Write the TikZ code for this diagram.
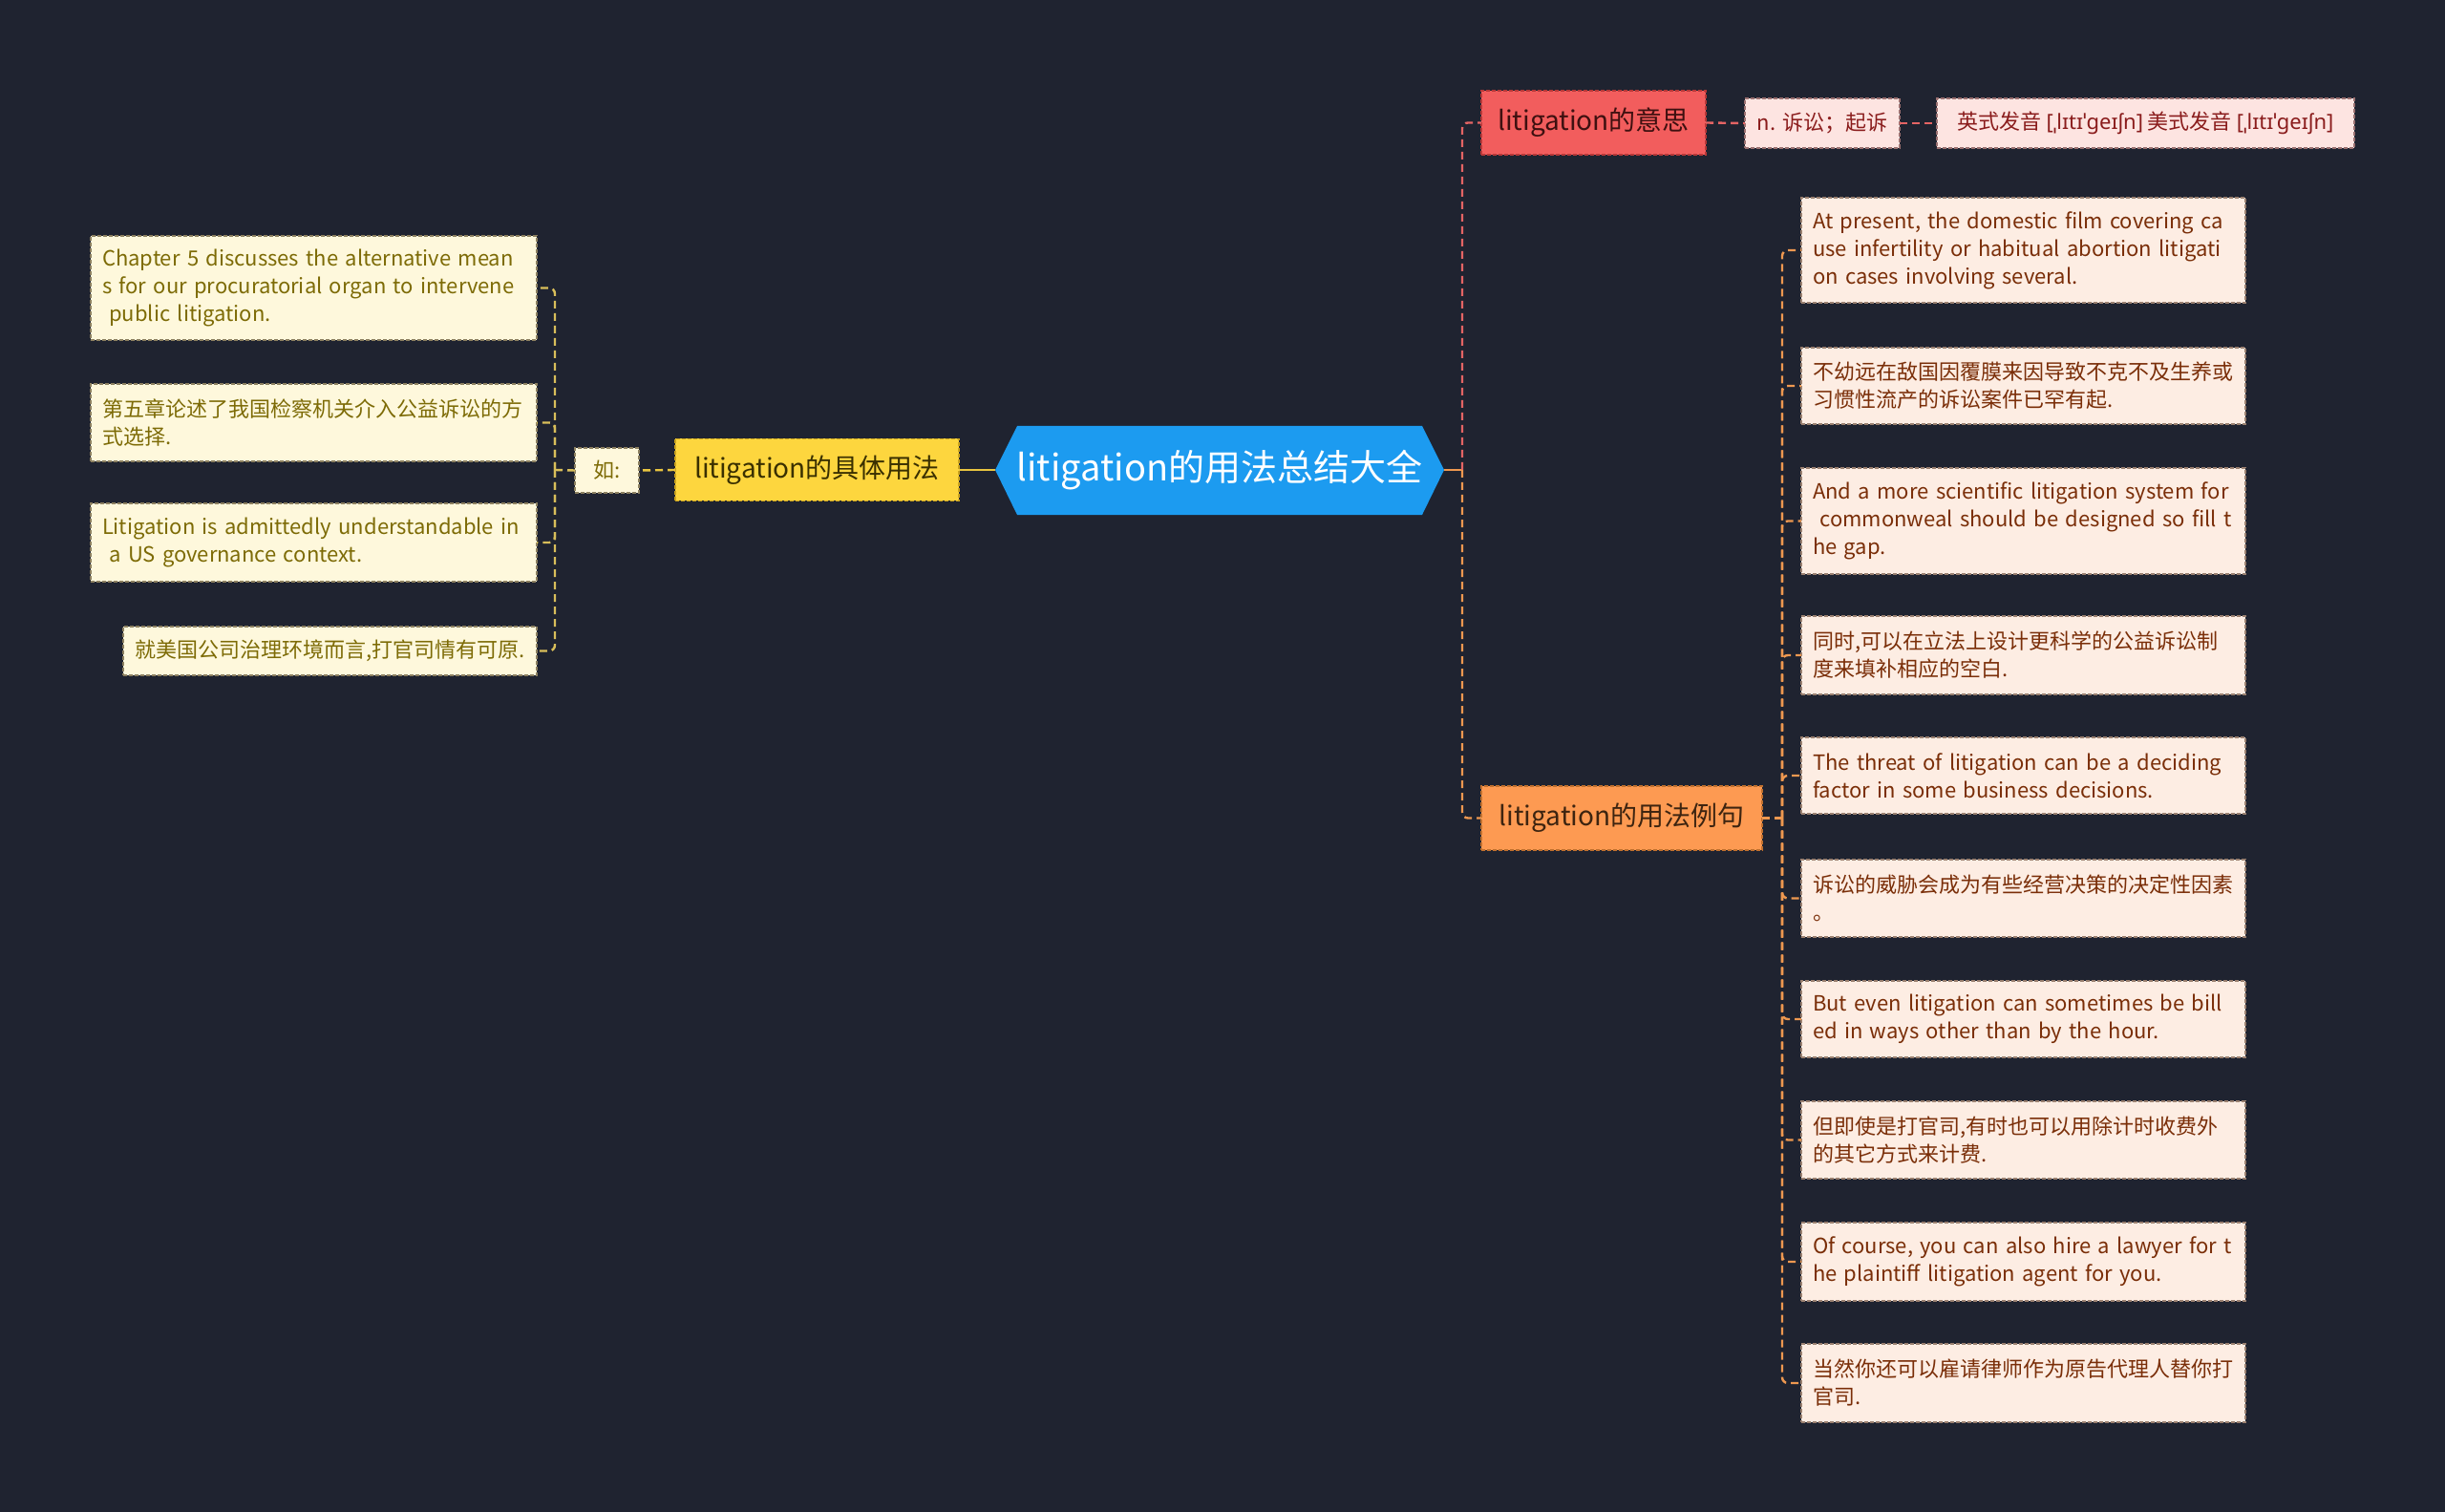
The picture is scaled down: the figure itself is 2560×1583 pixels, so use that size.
\documentclass[tikz,border=0pt]{standalone}
\usepackage{fontspec}
\setmainfont{Noto Sans CJK SC}
\newfontfamily\ipafont{Noto Sans}
\definecolor{bg}{HTML}{1F2330}
\definecolor{rootc}{HTML}{1C9BF0}
\definecolor{yfill}{HTML}{FDD63E}
\definecolor{ybord}{HTML}{C9A21E}
\definecolor{ytext}{HTML}{3A3000}
\definecolor{lfill}{HTML}{FEF8DC}
\definecolor{lbord}{HTML}{8C8060}
\definecolor{ltext}{HTML}{7D6B06}
\definecolor{rfill}{HTML}{F25D5D}
\definecolor{rbord}{HTML}{B83838}
\definecolor{rtext}{HTML}{3E1010}
\definecolor{pfill}{HTML}{FDE4E1}
\definecolor{pbord}{HTML}{9A7070}
\definecolor{ptext}{HTML}{8A1C1C}
\definecolor{ofill}{HTML}{FD9A52}
\definecolor{obord}{HTML}{C0702E}
\definecolor{otext}{HTML}{3D2410}
\definecolor{efill}{HTML}{FDEDE3}
\definecolor{ebord}{HTML}{9A8070}
\definecolor{etext}{HTML}{7A2E08}
\definecolor{yl}{HTML}{E8C440}
\definecolor{ll}{HTML}{D8BE5A}
\definecolor{rl}{HTML}{E46464}
\definecolor{ol}{HTML}{EE9850}
\begin{document}
\begin{tikzpicture}[x=0.5pt,y=-0.5pt,
  every node/.style={inner sep=0pt, outer sep=0pt},
  small/.style={font=\fontsize{11}{14.5}\selectfont},
  bdash/.style={dash pattern=on 2pt off 1pt, line width=0.6pt},
  leafL/.style={small, bdash, draw=lbord, fill=lfill, text=ltext, align=left, inner xsep=6pt, text width=221.5pt},
  leafR/.style={small, bdash, draw=ebord, fill=efill, text=etext, align=left, inner xsep=6pt, text width=220.5pt},
  branch/.style={bdash, font=\fontsize{14}{17}\selectfont},
  conn/.style={line width=1.2pt, dash pattern=on 4pt off 2.5pt, rounded corners=3pt},
]
\path[use as bounding box, fill=bg] (0,0) rectangle (2560,1583);

% root
\fill[rootc] (1042,492) -- (1065,446) -- (1489,446) -- (1512,492) -- (1489,539) -- (1065,539) -- cycle;
\node (root) at (1277,492) [minimum width=235pt, minimum height=46.5pt, text=white, font=\fontsize{19}{23}\selectfont] {litigation的用法总结大全};

% left branch
\node (yb) at (855.5,492) [branch, draw=ybord, fill=yfill, text=ytext, minimum width=148.5pt, minimum height=32.5pt] {litigation的具体用法};
\node (ru) at (635.5,492.5) [small, bdash, draw=lbord, fill=lfill, text=ltext, minimum width=33.5pt, minimum height=23.5pt] {如:};

\node (l1) at (328.5,301.5) [leafL, minimum height=54.5pt] {Chapter 5 discusses the alternative mean\\s for our procuratorial organ to intervene\\\ public litigation.};
\node (l2) at (328.5,442.5) [leafL, minimum height=40.5pt] {第五章论述了我国检察机关介入公益诉讼的方\\式选择.};
\node (l3) at (328.5,568) [leafL, minimum height=41pt] {Litigation is admittedly understandable in\\\ a US governance context.};
\node (l4) at (345.5,681.5) [small, bdash, draw=lbord, fill=lfill, text=ltext, minimum width=216.5pt, minimum height=25.5pt] {就美国公司治理环境而言,打官司情有可原.};

% right branches
\node (rd) at (1668.5,128.5) [branch, draw=rbord, fill=rfill, text=rtext, minimum width=117.5pt, minimum height=33.5pt] {litigation的意思};
\node (pn) at (1908,129) [small, bdash, draw=pbord, fill=pfill, text=ptext, minimum width=81pt, minimum height=26pt] {n. 诉讼；起诉};
\node (pr) at (2246.5,129) [small, bdash, draw=pbord, fill=pfill, text=ptext, minimum width=218.5pt, minimum height=26pt] {英式发音 {\ipafont [ˌlɪtɪˈgeɪʃn]} 美式发音 {\ipafont [ˌlɪtɪˈgeɪʃn]}};

\node (ex) at (1698,856.5) [branch, draw=obord, fill=ofill, text=otext, minimum width=147pt, minimum height=33.5pt] {litigation的用法例句};

\node (e1) at (2118.5,262) [leafR, minimum height=55pt] {At present, the domestic film covering ca\\use infertility or habitual abortion litigati\\on cases involving several.};
\node (e2) at (2118.5,404) [leafR, minimum height=40pt] {不幼远在敌国因覆膜来因导致不克不及生养或\\习惯性流产的诉讼案件已罕有起.};
\node (e3) at (2118.5,545.5) [leafR, minimum height=55.5pt] {And a more scientific litigation system for\\\ commonweal should be designed so fill t\\he gap.};
\node (e4) at (2118.5,686) [leafR, minimum height=41pt] {同时,可以在立法上设计更科学的公益诉讼制\\度来填补相应的空白.};
\node (e5) at (2118.5,812) [leafR, minimum height=40pt] {The threat of litigation can be a deciding\\factor in some business decisions.};
\node (e6) at (2118.5,940.5) [leafR, minimum height=40.5pt] {诉讼的威胁会成为有些经营决策的决定性因素\\。};
\node (e7) at (2118.5,1067) [leafR, minimum height=40pt] {But even litigation can sometimes be bill\\ed in ways other than by the hour.};
\node (e8) at (2118.5,1193.5) [leafR, minimum height=40.5pt] {但即使是打官司,有时也可以用除计时收费外\\的其它方式来计费.};
\node (e9) at (2118.5,1321) [leafR, minimum height=41pt] {Of course, you can also hire a lawyer for t\\he plaintiff litigation agent for you.};
\node (e10) at (2118.5,1448) [leafR, minimum height=41pt] {当然你还可以雇请律师作为原告代理人替你打\\官司.};

% connectors left
\draw[yl, line width=1.2pt] (root.west) -- (yb.east);
\draw[conn, yl] (yb.west) -- (ru.east);
\coordinate (jl) at (581,492);
\draw[conn, ll] (ru.west) -- (jl);
\foreach \n in {l1,l2,l3,l4} \draw[conn, ll] (jl) |- (\n.east);

% connectors right
\coordinate (jm) at (1531,492);
\draw[ol, line width=1.2pt] (root.east) -- (jm);
\draw[conn, rl] (jm) |- (rd.west);
\draw[conn, ol] (jm) |- (ex.west);
\draw[conn, rl] (rd.east) -- (pn.west);
\draw[conn, rl] (pn.east) -- (pr.west);
\coordinate (jr) at (1866,856.5);
\draw[conn, ol] (ex.east) -- (jr);
\foreach \n in {e1,e2,e3,e4,e5,e6,e7,e8,e9,e10} \draw[conn, ol] (jr) |- (\n.west);
\end{tikzpicture}
\end{document}
